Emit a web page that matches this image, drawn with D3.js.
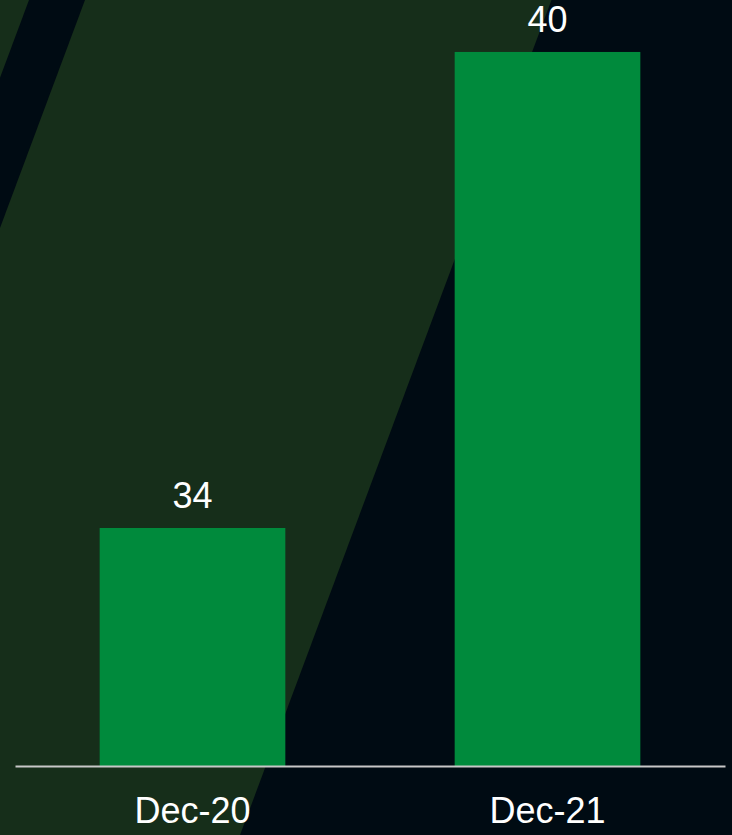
<!DOCTYPE html>
<html>
<head>
<meta charset="utf-8">
<script src="https://cdn.jsdelivr.net/npm/d3@7"></script>
<style>
  html, body { margin: 0; padding: 0; background: #000b13; }
  svg { display: block; }
  text { font-family: "Liberation Sans", Arial, sans-serif; fill: #ffffff; }
</style>
</head>
<body>
<svg id="chart" width="732" height="835"></svg>
<script>
const categories = ["Dec-20", "Dec-21"];
const values = [34, 40];

const W = 732, H = 835;
const margin = { left: 15, right: 7, bottom: 69 };
const baseY = H - margin.bottom;

const svg = d3.select("#chart");

// background: dark navy with slanted green bands
svg.append("rect").attr("width", W).attr("height", H).attr("fill", "#000b13");
const slope = 0.373;
const band = (x0, x1) => [[x0, 0], [x1, 0], [x1 - slope * H, H], [x0 - slope * H, H]];
svg.append("polygon")
  .attr("points", band(-400, 29).join(" "))
  .attr("fill", "#162e1a");
svg.append("polygon")
  .attr("points", band(85, 551.5).join(" "))
  .attr("fill", "#162e1a");

const x = d3.scaleBand()
  .domain(categories)
  .range([margin.left, W - margin.right])
  .paddingInner(0.477)
  .paddingOuter(0.2385);

const y = d3.scaleLinear().domain([31, 40.655]).range([baseY, 0]);

const data = categories.map((c, i) => ({ cat: c, value: values[i] }));

svg.append("g")
  .selectAll("rect")
  .data(data)
  .join("rect")
  .attr("x", (d) => x(d.cat))
  .attr("y", (d) => y(d.value))
  .attr("width", x.bandwidth())
  .attr("height", (d) => baseY - y(d.value))
  .attr("fill", "#008a3c");

svg.append("g")
  .selectAll("text")
  .data(data)
  .join("text")
  .attr("x", (d) => x(d.cat) + x.bandwidth() / 2)
  .attr("y", (d) => y(d.value) - 20)
  .attr("text-anchor", "middle")
  .attr("font-size", 36)
  .text((d) => d.value);

// baseline axis
const axis = svg.append("g")
  .attr("transform", `translate(0,${baseY})`)
  .call(d3.axisBottom(x).tickSize(0).tickPadding(0));
axis.select(".domain").attr("stroke", "#c8c8c8").attr("stroke-width", 2);
axis.selectAll(".tick text")
  .attr("font-size", 36)
  .attr("font-family", "Liberation Sans, Arial, sans-serif")
  .attr("fill", "#ffffff")
  .attr("dy", null)
  .attr("y", 57);
</script>
</body>
</html>
